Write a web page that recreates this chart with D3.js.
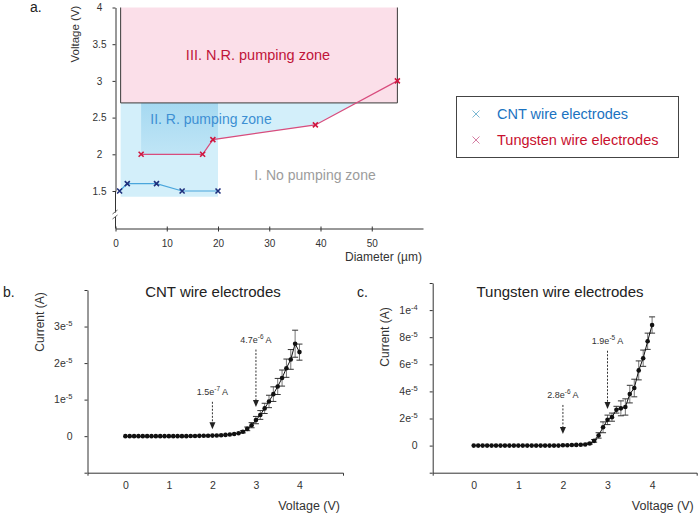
<!DOCTYPE html>
<html><head><meta charset="utf-8">
<script src="https://cdn.jsdelivr.net/npm/d3@7"></script>
<style>
body{margin:0;background:#fff}
svg{display:block}
text{font-family:"Liberation Sans",Arial,sans-serif}
</style>
</head><body>
<svg id="chart" width="700" height="516"></svg>
<script>
// ---------- Panel a data ----------
const cntDiameter = [0.8, 2.3, 8, 13, 20];
const cntThreshold = [1.5, 1.6, 1.6, 1.5, 1.5];
const tungDiameter = [5, 17, 19, 39, 55];
const tungThreshold = [2.0, 2.0, 2.2, 2.4, 3.0];
const aYTicks = [1.5, 2, 2.5, 3, 3.5, 4];
const aXTicks = [0, 10, 20, 30, 40, 50];
const legendLabels = ["CNT wire electrodes", "Tungsten wire electrodes"];
const zoneLabels = ["III. N.R. pumping zone", "II. R. pumping zone", "I. No pumping zone"];
// zone extents (diameter µm, voltage V)
const nrZone = {d0: 1, d1: 55, v0: 2.7, v1: 4};
const noZoneBottom = 1.42;
const rZoneLeft = 5;

// ---------- Panels b, c data (current in units of 1e-5 A) ----------
const ivVoltage = [0,0.1,0.2,0.3,0.4,0.5,0.6,0.7,0.8,0.9,1.0,1.1,1.2,1.3,1.4,1.5,1.6,1.7,1.8,1.9,2.0,
                   2.1,2.2,2.3,2.4,2.5,2.6,2.7,2.8,2.9,3.0,3.1,3.2,3.3,3.4,3.5,3.6,3.7,3.8,3.9,4.0];
const cntCurrent = [0,0,0,0,0,0,0,0,0,0,0,0,0,0,0,0.005,0.006,0.008,0.01,0.012,0.015,
                    0.02,0.025,0.035,0.045,0.06,0.08,0.12,0.2,0.3,0.44,0.58,0.76,0.95,1.15,1.36,1.59,1.86,2.1,2.53,2.3];
const cntError   = [0,0,0,0,0,0,0,0,0,0,0,0,0,0,0,0,0,0,0,0,0,
                    0,0,0,0,0,0,0.03,0.05,0.07,0.1,0.12,0.14,0.17,0.2,0.22,0.22,0.25,0.27,0.37,0.22];
const tungCurrent = [0,0,0,0,0,0,0,0,0,0,0,0,0,0,0,0,0,0,0,0,0.028,
                     0.03,0.04,0.05,0.06,0.08,0.15,0.35,0.75,1.35,1.9,2.1,2.65,2.75,2.85,3.8,4.25,5.55,6.45,7.7,8.9];
const tungError   = [0,0,0,0,0,0,0,0,0,0,0,0,0,0,0,0,0,0,0,0,0,
                     0,0,0,0,0,0.05,0.1,0.2,0.4,0.35,0.3,0.25,0.55,0.6,0.65,0.65,0.7,0.6,0.6,0.6];
const ivXTicks = [0, 1, 2, 3, 4];
const bYTicks = [0, 1, 2, 3];
const bYTickLabels = ["0", "1e-5", "2e-5", "3e-5"];
const cYTicks = [0, 2, 4, 6, 8, 10];
const cYTickLabels = ["0", "2e-5", "4e-5", "6e-5", "8e-5", "1e-4"];
const cntAnnotations = [
  {v: 2, label: "1.5e-7", tip: 0.19, top: 0.94},
  {v: 3, label: "4.7e-6", tip: 0.8, top: 2.37}
];
const tungAnnotations = [
  {v: 2, label: "2.8e-6", tip: 0.86, top: 3.0},
  {v: 3, label: "1.9e-5", tip: 2.7, top: 7.0}
];

const svg = d3.select("#chart");

function supLabel(sel, label, suffix) {
  const m = label.match(/^(.*e)(-\d+)$/);
  sel.text(null);
  if (m) {
    sel.append("tspan").text(m[1]);
    sel.append("tspan").attr("dy", -4).attr("font-size", "0.72em").text(m[2]);
    if (suffix) sel.append("tspan").attr("dy", 4).text(suffix);
  } else {
    sel.append("tspan").text(label + (suffix || ""));
  }
}

// ================= Panel a =================
(function(){
  const x = d3.scaleLinear([0, 60], [115.5, 423]);
  const y = d3.scaleLinear([1.5, 4], [191, 7.5]);
  const axisY = 228.5;
  const g = svg.append("g");

  const tungAt = d => {
    for (let i = 0; i < tungDiameter.length - 1; i++) {
      if (d >= tungDiameter[i] && d <= tungDiameter[i+1]) {
        const t = (d - tungDiameter[i]) / (tungDiameter[i+1] - tungDiameter[i]);
        return tungThreshold[i] + t * (tungThreshold[i+1] - tungThreshold[i]);
      }
    }
    return null;
  };
  let crossD = null;
  for (let i = 0; i < tungDiameter.length - 1; i++) {
    if (tungThreshold[i] <= nrZone.v0 && tungThreshold[i+1] >= nrZone.v0) {
      crossD = tungDiameter[i] + (nrZone.v0 - tungThreshold[i]) / (tungThreshold[i+1] - tungThreshold[i]) * (tungDiameter[i+1] - tungDiameter[i]);
    }
  }
  const cntMax = d3.max(cntDiameter);
  const lightPts = [[nrZone.d0, nrZone.v0], [crossD, nrZone.v0]];
  for (let i = tungDiameter.length - 1; i >= 0; i--) {
    if (tungDiameter[i] < crossD && tungDiameter[i] > cntMax) lightPts.push([tungDiameter[i], tungThreshold[i]]);
  }
  lightPts.push([cntMax, tungAt(cntMax)], [cntMax, noZoneBottom], [nrZone.d0, noZoneBottom]);
  g.append("path")
    .attr("d", d3.line().x(p => x(p[0])).y(p => y(p[1]))(lightPts) + "Z")
    .attr("fill", "#d3effa");

  const darkPts = [[rZoneLeft, nrZone.v0], [cntMax, nrZone.v0], [cntMax, tungAt(cntMax)]];
  for (let i = tungDiameter.length - 1; i >= 0; i--) {
    if (tungDiameter[i] <= cntMax && tungDiameter[i] >= rZoneLeft) darkPts.push([tungDiameter[i], tungThreshold[i]]);
  }
  const grad = svg.append("defs").append("linearGradient").attr("id", "rz").attr("x1", 0).attr("y1", 0).attr("x2", 0).attr("y2", 1);
  grad.append("stop").attr("offset", "0%").attr("stop-color", "#a6d9f1");
  grad.append("stop").attr("offset", "100%").attr("stop-color", "#bfe5f6");
  g.append("path")
    .attr("d", d3.line().x(p => x(p[0])).y(p => y(p[1]))(darkPts) + "Z")
    .attr("fill", "url(#rz)");

  g.append("rect")
    .attr("x", x(nrZone.d0)).attr("y", y(nrZone.v1))
    .attr("width", x(nrZone.d1) - x(nrZone.d0)).attr("height", y(nrZone.v0) - y(nrZone.v1))
    .attr("fill", "#fbdfe9");
  g.append("path")
    .attr("d", `M${x(nrZone.d0)},${y(nrZone.v1)}V${y(nrZone.v0)}H${x(nrZone.d1)}V${y(nrZone.v1)}`)
    .attr("fill", "none").attr("stroke", "#3a3a3a").attr("stroke-width", 1);

  g.append("text").attr("x", 258).attr("y", 60).attr("text-anchor", "middle")
    .attr("font-size", 14.5).attr("fill", "#c0143a").text(zoneLabels[0]);
  g.append("text").attr("x", 211).attr("y", 124).attr("text-anchor", "middle")
    .attr("font-size", 14).attr("fill", "#3d8fd3").text(zoneLabels[1]);
  g.append("text").attr("x", 315).attr("y", 180).attr("text-anchor", "middle")
    .attr("font-size", 14).attr("fill", "#9c9c9c").text(zoneLabels[2]);

  const ln = d3.line();
  g.append("path").attr("d", ln(cntDiameter.map((d, i) => [x(d), y(cntThreshold[i])])))
    .attr("fill", "none").attr("stroke", "#4aa6dc").attr("stroke-width", 1.2);
  g.append("path").attr("d", ln(tungDiameter.map((d, i) => [x(d), y(tungThreshold[i])])))
    .attr("fill", "none").attr("stroke", "#d84c7d").attr("stroke-width", 1.2);
  const xMark = "M-2.5,-2.5L2.5,2.5M-2.5,2.5L2.5,-2.5";
  g.selectAll(".cm").data(cntDiameter).join("path")
    .attr("transform", (d, i) => `translate(${x(d)},${y(cntThreshold[i])})`)
    .attr("d", xMark).attr("stroke", "#1d2f7c").attr("stroke-width", 1.6);
  g.selectAll(".tm").data(tungDiameter).join("path")
    .attr("transform", (d, i) => `translate(${x(d)},${y(tungThreshold[i])})`)
    .attr("d", xMark).attr("stroke", "#d0173f").attr("stroke-width", 1.6);

  const ya = g.append("g").attr("transform", `translate(${x(0)},0)`)
    .call(d3.axisLeft(y).tickValues(aYTicks).tickSize(3).tickSizeOuter(0).tickPadding(10).tickFormat(d3.format("")));
  ya.select(".domain").attr("stroke", "#333");
  ya.selectAll(".tick line").attr("stroke", "#333");
  ya.selectAll(".tick text").attr("font-size", 10).attr("fill", "#333").attr("text-anchor", "middle").attr("x", -16);
  g.append("line").attr("x1", x(0)).attr("x2", x(0)).attr("y1", y(1.5)).attr("y2", 212.5).attr("stroke", "#333");
  g.append("line").attr("x1", x(0)).attr("x2", x(0)).attr("y1", 217).attr("y2", axisY).attr("stroke", "#333");
  g.append("path").attr("d", `M${x(0)-3},${214}L${x(0)+2},${210}M${x(0)-3},${219}L${x(0)+2},${215}`)
    .attr("stroke", "#555").attr("stroke-width", 0.9).attr("fill", "none");

  const xa = g.append("g").attr("transform", `translate(0,${axisY})`)
    .call(d3.axisBottom(x).tickValues(aXTicks).tickSize(3).tickSizeOuter(0).tickPadding(8));
  xa.select(".domain").attr("stroke", "#333");
  xa.selectAll(".tick line").attr("stroke", "#333").attr("y1", -2);
  xa.selectAll(".tick text").attr("font-size", 10).attr("fill", "#333");

  g.append("text").attr("transform", "translate(79,34) rotate(-90)").attr("text-anchor", "middle")
    .attr("font-size", 11.5).attr("fill", "#333").text("Voltage (V)");
  g.append("text").attr("x", 345).attr("y", 261).attr("font-size", 12).attr("fill", "#333").text("Diameter (µm)");
  svg.append("text").attr("x", 30).attr("y", 12).attr("font-size", 14).attr("fill", "#222").text("a.");

  const lg = svg.append("g");
  lg.append("rect").attr("x", 456.5).attr("y", 96.5).attr("width", 222).attr("height", 61)
    .attr("fill", "#fff").attr("stroke", "#444");
  const legendMarkerColors = ["#7db9d3", "#d57ea3"];
  const legendTextColors = ["#1b73c1", "#c8102e"];
  legendLabels.forEach((lab, i) => {
    const yy = 114 + i * 26;
    lg.append("path").attr("transform", `translate(476,${yy})`).attr("d", "M-3.5,-3.5L3.5,3.5M-3.5,3.5L3.5,-3.5")
      .attr("stroke", legendMarkerColors[i]).attr("stroke-width", 1);
    lg.append("text").attr("x", 497).attr("y", yy + 5).attr("font-size", 14.5).attr("fill", legendTextColors[i]).text(lab);
  });
})();

// ================= IV panels =================
function ivPanel(opt) {
  const g = svg.append("g");
  const x = d3.scaleLinear(opt.xDomain, opt.xRange);
  const y = d3.scaleLinear(opt.yDomain, opt.yRange);
  const tickVals = d3.range(opt.yDomain[0], opt.yDomain[1] + 0.001, opt.yStep);

  const ya = g.append("g").attr("transform", `translate(${opt.xRange[0]},0)`)
    .call(d3.axisLeft(y).tickValues(tickVals).tickSize(3).tickSizeOuter(0).tickPadding(12).tickFormat(() => ""));
  ya.select(".domain").attr("stroke", "#333");
  ya.selectAll(".tick line").attr("stroke", "#333");
  ya.selectAll(".tick text").each(function(d) {
    const idx = opt.yTicks.indexOf(+d.toFixed(6));
    if (idx >= 0) supLabel(d3.select(this), opt.yTickLabels[idx]);
  }).attr("font-size", 10.5).attr("fill", "#333");

  const xa = g.append("g").attr("transform", `translate(0,${opt.yRange[0]})`)
    .call(d3.axisBottom(x).tickValues(ivXTicks).tickSize(0).tickSizeOuter(3).tickPadding(9).tickFormat(d3.format("d")));
  xa.select(".domain").attr("stroke", "#333");
  xa.selectAll(".tick text").attr("font-size", 10.5).attr("fill", "#333");

  const eb = g.append("g").attr("stroke", "#777").attr("stroke-width", 1);
  ivVoltage.forEach((v, i) => {
    const e = opt.err[i];
    if (!e) return;
    const c = opt.cur[i], xx = x(v);
    eb.append("line").attr("x1", xx).attr("x2", xx).attr("y1", y(c + e)).attr("y2", y(c - e));
    eb.append("line").attr("x1", xx - 3).attr("x2", xx + 3).attr("y1", y(c + e)).attr("y2", y(c + e)).attr("stroke", "#333");
    eb.append("line").attr("x1", xx - 3).attr("x2", xx + 3).attr("y1", y(c - e)).attr("y2", y(c - e)).attr("stroke", "#333");
  });
  g.append("path").attr("d", d3.line().x((v) => x(v)).y((v, i) => y(opt.cur[i]))(ivVoltage))
    .attr("fill", "none").attr("stroke", "#111").attr("stroke-width", 1);
  g.selectAll("circle.pt").data(ivVoltage).join("circle")
    .attr("cx", v => x(v)).attr("cy", (v, i) => y(opt.cur[i])).attr("r", 2.3).attr("fill", "#111");

  opt.ann.forEach(a => {
    const xx = x(a.v), yt = y(a.tip), y0 = y(a.top);
    g.append("line").attr("x1", xx).attr("x2", xx).attr("y1", y0).attr("y2", yt - 6)
      .attr("stroke", "#333").attr("stroke-width", 1).attr("stroke-dasharray", "2,1.5");
    g.append("path").attr("d", `M${xx - 3},${yt - 7}L${xx + 3},${yt - 7}L${xx},${yt}Z`).attr("fill", "#222");
    const t = g.append("text").attr("x", xx).attr("y", y0 - 7).attr("text-anchor", "middle")
      .attr("font-size", 9).attr("fill", "#333");
    supLabel(t, a.label, " A");
  });

  g.append("text").attr("x", opt.titleX).attr("y", 297).attr("text-anchor", "middle")
    .attr("font-size", 15).attr("fill", "#222").text(opt.title);
  g.append("text").attr("transform", `translate(${opt.yLabelX},${opt.yLabelY}) rotate(-90)`).attr("text-anchor", "middle")
    .attr("font-size", 12).attr("fill", "#333").text("Current (A)");
  g.append("text").attr("x", opt.xRange[1] - 3).attr("y", 510).attr("text-anchor", "end")
    .attr("font-size", 12.5).attr("fill", "#333").text("Voltage (V)");
  g.append("text").attr("x", opt.letterX).attr("y", 297).attr("font-size", 14).attr("fill", "#222").text(opt.letter);
}

ivPanel({
  xDomain: [-0.87, 5], xRange: [87.5, 343],
  yDomain: [-1, 4], yRange: [472.7, 290], yStep: 1,
  yTicks: bYTicks, yTickLabels: bYTickLabels,
  cur: cntCurrent, err: cntError, ann: cntAnnotations,
  title: "CNT wire electrodes", titleX: 213, yLabelX: 44, yLabelY: 322, letter: "b.", letterX: 3
});
ivPanel({
  xDomain: [-0.92, 5], xRange: [432.7, 696.7],
  yDomain: [-2, 12], yRange: [472.7, 283], yStep: 2,
  yTicks: cYTicks, yTickLabels: cYTickLabels,
  cur: tungCurrent, err: tungError, ann: tungAnnotations,
  title: "Tungsten wire electrodes", titleX: 560, yLabelX: 389, yLabelY: 337, letter: "c.", letterX: 357
});
</script>
</body></html>
